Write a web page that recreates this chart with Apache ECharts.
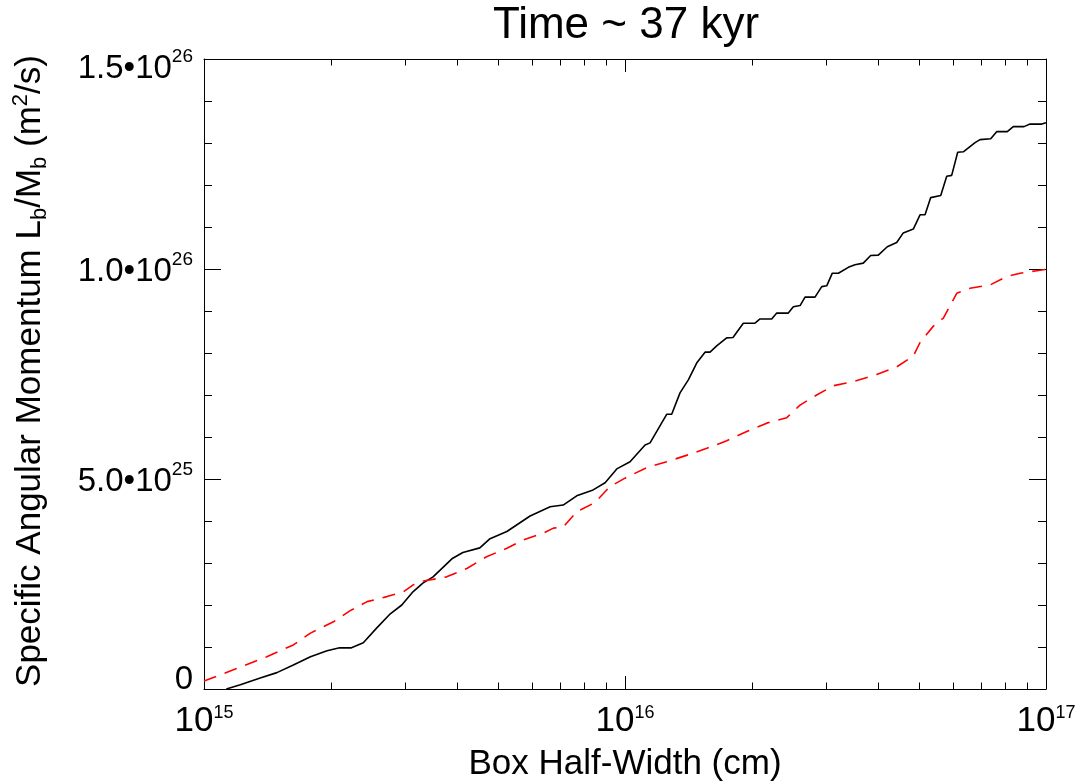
<!DOCTYPE html>
<html>
<head>
<meta charset="utf-8">
<script src="https://cdn.jsdelivr.net/npm/echarts@6/dist/echarts.min.js"></script>
<style>html,body{margin:0;padding:0;background:#fff}#chart{width:1086px;height:784px}</style>
</head>
<body>
<div id="chart"></div>
<script>
// ---------- text ----------
const titleText = 'Time ~ 37 kyr';
const xAxisTitle = 'Box Half-Width (cm)';
const yAxisTitleParts = ['Specific Angular Momentum L', 'b', '/M', 'b', ' (m', '2', '/s)'];

// ---------- tick labels ----------
const xTickExps = ['15', '16', '17'];            // labels 10^15, 10^16, 10^17
const xMinorMultipliers = [2, 3, 4, 5, 6, 7, 8, 9];
const yTickMantissas = ['0', '5.0•10', '1.0•10', '1.5•10'];
const yTickExps = ['', '25', '26', '26'];

// ---------- data ----------
// x in units of 1e15 cm, y in units of 1e25 m^2/s
const X_UNIT = 1e15;
const Y_UNIT = 1e25;

const blackX = [1.13, 1.22, 1.36, 1.49, 1.63, 1.79, 1.96, 2.10, 2.24, 2.39,
  2.57, 2.77, 2.95, 3.14, 3.31, 3.50, 3.88, 4.12, 4.52, 4.78,
  5.24, 5.95, 6.64, 7.13, 7.68, 8.40, 8.97, 9.56, 10.28, 11.16,
  11.47, 12.56, 12.91, 13.51, 14.14, 14.80, 15.49, 15.92, 16.51, 17.44,
  18.05, 19.10, 20.36, 20.93, 22.31, 22.93, 24.43, 25.11, 26.05, 26.77,
  28.27, 29.33, 30.14, 31.08, 32.12, 33.92, 35.18, 36.81, 38.33, 39.96,
  41.98, 44.20, 45.81, 48.40, 50.21, 51.60, 53.23, 56.23, 58.10, 59.70,
  61.70, 63.62, 67.84, 69.71, 73.91, 76.35, 80.92, 83.62, 88.66, 91.62,
  97.68, 100];
const blackY = [0, 0.10, 0.26, 0.39, 0.57, 0.77, 0.91, 0.98, 0.98, 1.10,
  1.45, 1.79, 2.00, 2.32, 2.52, 2.67, 3.10, 3.25, 3.36, 3.58,
  3.75, 4.12, 4.34, 4.38, 4.60, 4.74, 4.91, 5.24, 5.41, 5.81,
  5.86, 6.54, 6.54, 7.05, 7.36, 7.76, 8.02, 8.02, 8.17, 8.36,
  8.37, 8.71, 8.71, 8.81, 8.81, 8.95, 8.95, 9.10, 9.13, 9.33,
  9.33, 9.58, 9.60, 9.90, 9.90, 10.04, 10.10, 10.14, 10.32, 10.33,
  10.53, 10.63, 10.86, 10.95, 11.29, 11.29, 11.70, 11.75, 12.21, 12.23,
  12.78, 12.79, 13.01, 13.08, 13.10, 13.27, 13.27, 13.39, 13.39, 13.45,
  13.45, 13.48];

const redX = [1.00, 1.17, 1.41, 1.63, 1.79, 2.03, 2.22, 2.44, 2.72, 2.98,
  3.14, 3.32, 3.77, 4.21, 4.69, 5.24, 5.73, 6.40, 6.76, 7.14,
  7.68, 8.49, 9.21, 10.0, 11.26, 12.56, 14.27, 15.64, 17.44, 19.46,
  21.71, 24.22, 26.05, 28.53, 31.25, 34.86, 39.62, 44.20, 48.40, 50.21,
  54.01, 57.04, 61.36, 66.01, 73.62, 80.66, 86.77, 95.04, 100];
const redY = [0.19, 0.45, 0.77, 1.05, 1.33, 1.60, 1.86, 2.08, 2.20, 2.32,
  2.48, 2.57, 2.67, 2.87, 3.15, 3.35, 3.55, 3.71, 3.83, 3.86,
  4.22, 4.44, 4.82, 5.02, 5.27, 5.41, 5.59, 5.73, 5.91, 6.13,
  6.33, 6.46, 6.76, 7.00, 7.22, 7.32, 7.49, 7.67, 7.93, 8.25,
  8.64, 8.83, 9.42, 9.54, 9.62, 9.82, 9.90, 9.96, 9.99];

// ---------- build ----------
const FONT = "'Liberation Sans', Arial, Helvetica, sans-serif";
const pairs = (xs, ys) => xs.map((x, i) => [x * X_UNIT, ys[i] * Y_UNIT]);

const xMinExp = 15, xMaxExp = 17;
const yMin = 0, yMax = 1.5e26, yStep = 5e25;
const minorTickData = [];
for (let e = xMinExp; e < xMaxExp; e++) {
  xMinorMultipliers.forEach(m => minorTickData.push([m * Math.pow(10, e), yMin]));
}

const axisLineStyle = { color: '#000', width: 1 };

const xLabelRich = {
  b: { fontSize: 35, lineHeight: 35, verticalAlign: 'middle', fontFamily: FONT, color: '#000' },
  s: { fontSize: 18, lineHeight: 16, verticalAlign: 'top', fontFamily: FONT, color: '#000' }
};
const yLabelRich = {
  b: { fontSize: 33, lineHeight: 33, verticalAlign: 'bottom', fontFamily: FONT, color: '#000' },
  s: { fontSize: 19, lineHeight: 38, verticalAlign: 'top', fontFamily: FONT, color: '#000' },
  tsp: { fontSize: 1, lineHeight: 14, fontFamily: FONT },
  zb: { fontSize: 33, lineHeight: 33, verticalAlign: 'middle', fontFamily: FONT, color: '#000' },
  zsp: { fontSize: 1, lineHeight: 18, fontFamily: FONT }
};

function yLabel(v) {
  const i = Math.round(v / yStep);
  const m = yTickMantissas[i], e = yTickExps[i];
  if (i === 0) return '{zb|' + m + '}\n{zsp| }';
  if (i === yTickMantissas.length - 1) return '{tsp| }\n{b|' + m + '}{s|' + e + '}';
  return '{b|' + m + '}{s|' + e + '}';
}
function xLabel(v) {
  const i = Math.round(Math.log10(v)) - xMinExp;
  return '{b|10}{s|' + xTickExps[i] + '}';
}

const chart = echarts.init(document.getElementById('chart'), null, { renderer: 'canvas' });
chart.setOption({
  animation: false,
  backgroundColor: '#fff',
  grid: { left: 204, right: 40, top: 59, bottom: 95, containLabel: false },
  xAxis: [
    { type: 'log', logBase: 10, min: Math.pow(10, xMinExp), max: Math.pow(10, xMaxExp), position: 'bottom',
      axisLine: { show: true, onZero: false, lineStyle: axisLineStyle },
      axisTick: { show: true, inside: true, length: 13, lineStyle: axisLineStyle },
      axisLabel: { show: true, margin: 15, formatter: xLabel, rich: xLabelRich, fontFamily: FONT },
      splitLine: { show: false } },
    { type: 'log', logBase: 10, min: Math.pow(10, xMinExp), max: Math.pow(10, xMaxExp), position: 'top',
      axisLine: { show: true, onZero: false, lineStyle: axisLineStyle },
      axisTick: { show: true, inside: true, length: 13, lineStyle: axisLineStyle },
      axisLabel: { show: false }, splitLine: { show: false } }
  ],
  yAxis: [
    { type: 'value', min: yMin, max: yMax, interval: yStep, position: 'left',
      axisLine: { show: true, onZero: false, lineStyle: axisLineStyle },
      axisTick: { show: true, inside: true, length: 17, lineStyle: axisLineStyle },
      minorTick: { show: true, splitNumber: 5, length: 8, lineStyle: axisLineStyle },
      axisLabel: { show: true, margin: 11, formatter: yLabel, rich: yLabelRich, fontFamily: FONT },
      splitLine: { show: false }, minorSplitLine: { show: false } },
    { type: 'value', min: yMin, max: yMax, interval: yStep, position: 'right',
      axisLine: { show: true, onZero: false, lineStyle: axisLineStyle },
      axisTick: { show: true, inside: true, length: 17, lineStyle: axisLineStyle },
      minorTick: { show: true, splitNumber: 5, length: 8, lineStyle: axisLineStyle },
      axisLabel: { show: false }, splitLine: { show: false } }
  ],
  series: [
    { name: 'minor ticks', type: 'custom', xAxisIndex: 0, yAxisIndex: 0, data: minorTickData,
      silent: true, clip: false, z: 5,
      encode: { x: 0, y: 1 },
      renderItem: function (params, api) {
        const xv = api.value(0);
        const b = api.coord([xv, yMin]);
        const t = api.coord([xv, yMax]);
        const px = Math.round(b[0]) + 0.5;
        return { type: 'group', children: [
          { type: 'line', shape: { x1: px, y1: b[1], x2: px, y2: b[1] - 6.5 }, style: { stroke: '#000', lineWidth: 1 } },
          { type: 'line', shape: { x1: px, y1: t[1], x2: px, y2: t[1] + 6.5 }, style: { stroke: '#000', lineWidth: 1 } }
        ] };
      } },
    { name: 'Total', type: 'line', xAxisIndex: 0, yAxisIndex: 0, data: pairs(blackX, blackY),
      showSymbol: false, symbol: 'none', clip: true,
      lineStyle: { color: '#000', width: 1.6 } },
    { name: 'Component', type: 'line', xAxisIndex: 0, yAxisIndex: 0, data: pairs(redX, redY),
      showSymbol: false, symbol: 'none', clip: true,
      lineStyle: { color: '#ff0000', width: 1.6, type: [13, 9] } }
  ],
  graphic: [
    { type: 'text', x: 626, y: 26, silent: true,
      style: { text: titleText, fontSize: 44, fontFamily: FONT, fill: '#000', align: 'center', verticalAlign: 'middle' } },
    { type: 'text', x: 625, y: 764, silent: true,
      style: { text: xAxisTitle, fontSize: 35, fontFamily: FONT, fill: '#000', align: 'center', verticalAlign: 'middle' } },
    { type: 'text', x: 30, y: 371, rotation: Math.PI / 2, silent: true,
      style: {
        text: '{n|' + yAxisTitleParts[0] + '}{sub|' + yAxisTitleParts[1] + '}{n|' + yAxisTitleParts[2] + '}{sub|' +
              yAxisTitleParts[3] + '}{n|' + yAxisTitleParts[4] + '}{sup|' + yAxisTitleParts[5] + '}{n|' + yAxisTitleParts[6] + '}',
        align: 'center', verticalAlign: 'middle', fill: '#000', fontFamily: FONT,
        rich: {
          n: { fontSize: 35, lineHeight: 35, verticalAlign: 'middle', fontFamily: FONT, fill: '#000' },
          sub: { fontSize: 22, lineHeight: 41, verticalAlign: 'bottom', fontFamily: FONT, fill: '#000' },
          sup: { fontSize: 22, lineHeight: 22, verticalAlign: 'top', fontFamily: FONT, fill: '#000' }
        }
      } }
  ]
});
</script>
</body>
</html>
